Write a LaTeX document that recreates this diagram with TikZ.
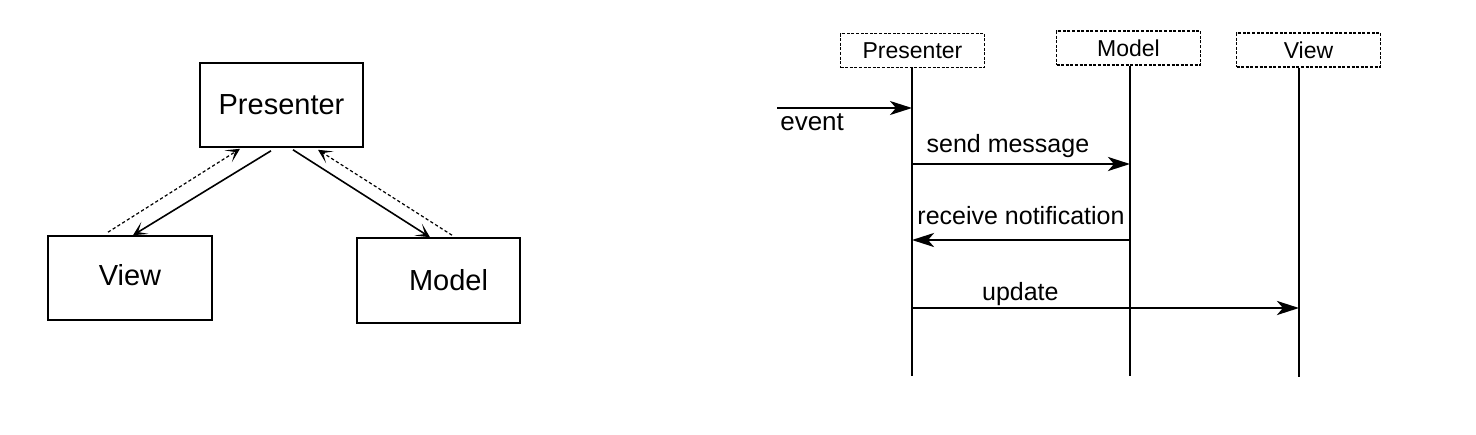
\documentclass[tikz,border=0pt]{standalone}
\usepackage{fontspec}
\setmainfont{Liberation Sans}
\usetikzlibrary{arrows.meta,calc}

\begin{document}
\begin{tikzpicture}[x=0.5pt, y=-0.5pt, line width=1pt,
    main node/.style={draw, line width=0.8pt, inner sep=0pt, font=\fontsize{14.5}{16}\selectfont},
    head node/.style={draw, line width=0.7pt, dash pattern=on 1.5pt off 0.8pt, inner sep=0pt,
                      minimum width=72pt, minimum height=17pt, font=\fontsize{11.5}{13}\selectfont},
    call/.style={-{Stealth[length=7pt,width=7pt,inset=4pt]}, line width=0.8pt},
    back/.style={call, dash pattern=on 1.6pt off 1.2pt, line width=0.6pt},
    msg/.style={-{Stealth[length=11pt,width=7pt,inset=3pt]}, line width=1.4pt},
    life line/.style={line width=0.9pt},
    msg label/.style={font=\fontsize{12.5}{14}\selectfont}]

    \useasboundingbox (0,0) rectangle (1476,434);

    % MVP boxes
    \node[main node, minimum width=81.5pt, minimum height=42pt] (1) at (281.5,105) {Presenter};
    \node[main node, minimum width=82pt, minimum height=42pt] (2) at (130,278) {\raisebox{3pt}{View}};
    \node[main node, minimum width=81.5pt, minimum height=42.5pt] (3) at (438.5,280.5) {\hspace{10pt}Model};

    % MVP links
    \draw[call] ($(1.south)+(-10.5,3)$) -- ($(2.north)+(3,0)$);
    \draw[back] ($(2.north)+(-22,-3)$) -- ($(1.south)+(-41.5,1)$);
    \draw[call] ($(1.south)+(11.5,2)$) -- ($(3.north)+(-8.5,0)$);
    \draw[back] ($(3.north)+(13.5,-2)$) -- ($(1.south)+(36.5,2)$);

    % sequence heads
    \node[head node] (hp) at (912.5,50.5) {Presenter};
    \node[head node] (hm) at (1128.5,48) {Model};
    \node[head node] (hv) at (1308.5,50) {View};

    % lifelines
    \coordinate (lp) at (912,376);
    \coordinate (lm) at (1130,376);
    \coordinate (lv) at (1299,377);
    \draw[life line] (lp |- hp.south) -- (lp);
    \draw[life line] (lm |- hm.south) -- (lm);
    \draw[life line] (lv |- hv.south) -- (lv);

    % messages
    \coordinate (ev) at (777,108);
    \coordinate (s1) at (0,164);
    \coordinate (s2) at (0,240);
    \coordinate (s3) at (0,308);
    \draw[msg, line width=1pt] (ev) -- node[pos=0.26, below=-1pt, font=\fontsize{13}{15}\selectfont] {event} (ev -| lp);
    \draw[msg] (s1 -| lp) -- node[pos=0.44, above=-1pt, msg label] {send message} (s1 -| lm);
    \draw[msg] (s2 -| lm) -- node[pos=0.5, above=3.5pt, msg label] {receive notification} (s2 -| lp);
    \draw[msg] (s3 -| lp) -- node[pos=0.28, above=-3pt, msg label] {update} (s3 -| lv);

\end{tikzpicture}
\end{document}
